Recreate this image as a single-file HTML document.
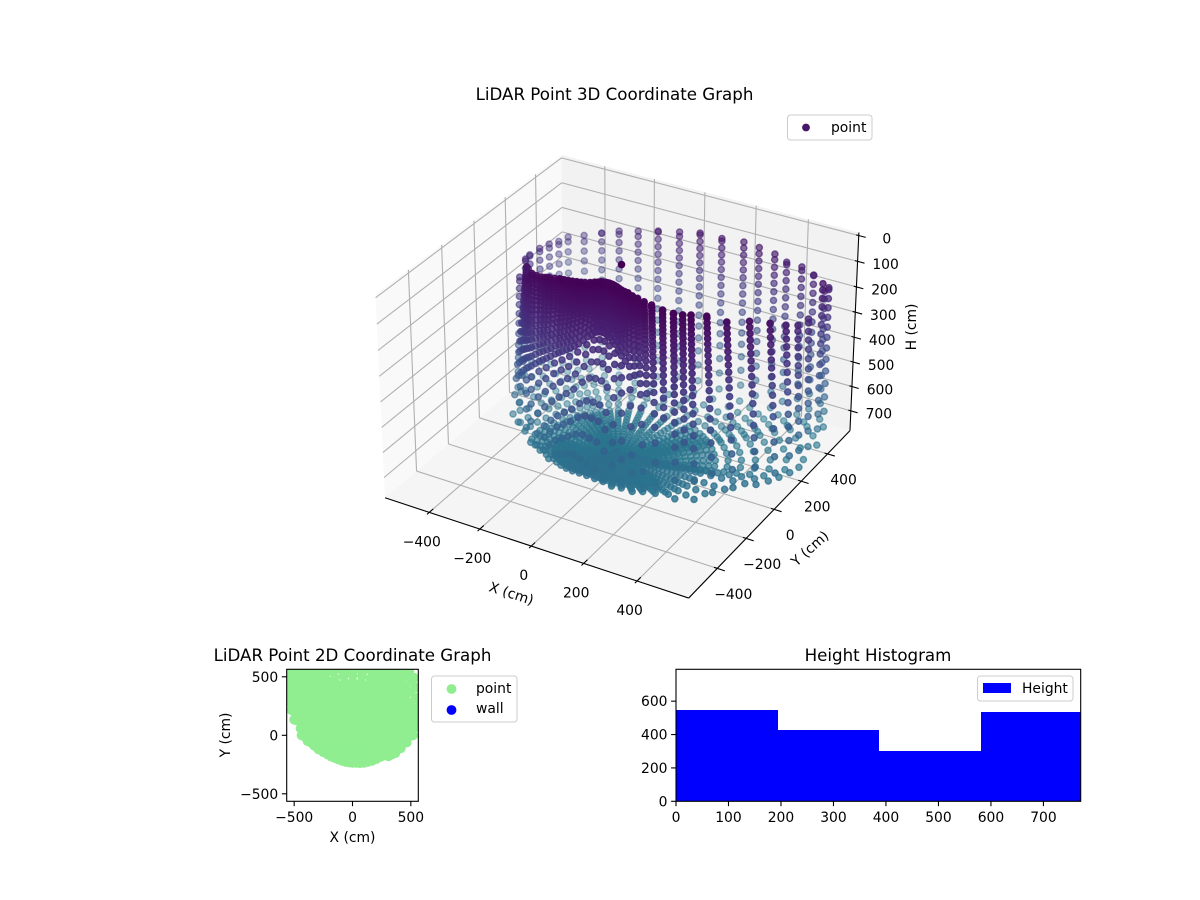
<!DOCTYPE html>
<html>
<head>
<meta charset="utf-8">
<title>LiDAR Point Graphs</title>
<style>
html,body{margin:0;padding:0;background:#fff;}
svg{display:block;}
text{font-family:"DejaVu Sans","Liberation Sans",sans-serif;fill:#000;font-size:13.89px;}
.ttl{font-size:16.67px;}
</style>
</head>
<body>
<svg id="fig" xmlns="http://www.w3.org/2000/svg" width="1200" height="900" viewBox="0 0 1200 900">
  <rect width="1200" height="900" fill="#fff"/>
  <defs><clipPath id="clip2d"><rect x="286.7" y="669.3" width="131.6" height="132"/></clipPath></defs>
  <g id="g3d"></g>
  <text class="ttl" x="614.5" y="100" text-anchor="middle">LiDAR Point 3D Coordinate Graph</text>
  <text text-anchor="middle" transform="translate(510,598) rotate(18)">X (cm)</text>
  <text text-anchor="middle" transform="translate(813,552) rotate(-42)">Y (cm)</text>
  <text text-anchor="middle" transform="translate(916,327) rotate(-90)">H (cm)</text>
  <g>
    <rect x="787.5" y="115" width="84.5" height="25" rx="3" fill="#fff" fill-opacity=".8" stroke="#ccc" stroke-width="1"/>
    <circle cx="806" cy="127.5" r="3.9" fill="#47176a"/>
    <text x="831" y="132">point</text>
  </g>

  <g id="g2d"></g>
  <text class="ttl" x="352.5" y="661" text-anchor="middle">LiDAR Point 2D Coordinate Graph</text>
  <text x="352.5" y="842" text-anchor="middle">X (cm)</text>
  <text text-anchor="middle" transform="translate(230,735) rotate(-90)">Y (cm)</text>
  <g>
    <rect x="431.5" y="676" width="85.5" height="46" rx="3" fill="#fff" fill-opacity=".8" stroke="#ccc" stroke-width="1"/>
    <circle cx="451.5" cy="689" r="4.9" fill="#90ee90"/>
    <text x="476" y="693">point</text>
    <circle cx="451.5" cy="710" r="4.9" fill="#0000ff"/>
    <text x="476" y="713">wall</text>
  </g>

  <g id="ghist"></g>
  <text class="ttl" x="878" y="661" text-anchor="middle">Height Histogram</text>
  <g>
    <rect x="977.5" y="676" width="95.5" height="25" rx="3" fill="#fff" fill-opacity=".8" stroke="#ccc" stroke-width="1"/>
    <rect x="983" y="683" width="28" height="10" fill="#0000ff"/>
    <text x="1022" y="693">Height</text>
  </g>
</svg>
<script>
// ---------- Scan data ----------
const spokeAzimuth = [180,-176.25,-172.5,-168.75,-165,-161.25,-157.5,-153.75,-150,-146.25,-142.5,-138.75,-135,-131.25,-127.5,-123.75,-120,-116.25,-112.5,-108.75,-105,-101.25,-97.5,-93.75,-90,-86.25,-82.5,-78.75,-75,-71.25,-67.5,-63.75,-60,-56.25,-52.5,-48.75,-45,-41.25,-37.5,-33.75,-30,-26.25,-22.5,-15,-7.5,0,7.5,15,22.5,30,37,43,48.3,51,54,58,61.8,67,72.6,81,90,98.5,107,114.4,120.8,126,130.7,134.5,138.1,142.2,146.8,152,157.5,165,172.5];
const spokeTopRange = [370,358,345,338,330,315,300,282,265,252,240,225,210,200,190,180,170,160,150,137,125,117,110,107,105,105,105,107,110,115,120,130,140,150,160,180,200,228,255,300,335,355,368,390,430,480,525,560,590,625,680,720,730,702,674,640,618,592,572,551,545,551,570,598,635,675,719,764,719,677,639,606,547,497,400];
const spokeTopHeight = [110,115,120,110,100,86,56,52,48,40,32,28,24,22,20,19,18,18,18,18,18,18,17,17,17,17,17,17,17,17,18,18,19,19,19,20,20,20,21,21,21,24,26,40,70,80,110,150,190,210,120,180,232,181,161,157,139,130,125,133,135,153,172,194,215,243,271,296,283,263,250,245,218,244,150];
const spokeWallRange = [440,415,390,365,340,328,315,302,290,280,270,264,258,253,248,245,243,241,240,240,240,240,241,242,243,244,245,247,250,254,258,263,268,273,278,284,290,297,305,325,360,380,400,430,470,520,560,590,610,640,680,720,730,702,674,640,618,592,572,551,545,551,570,598,635,675,719,764,719,677,639,606,570,520,450];
const spokeFloorHeight = [745,742,740,739,738,736,735,733,732,730,728,726,725,723,722,720,718,716,714,712,710,708,706,705,705,706,708,710,712,714,716,718,720,722,724,726,727,729,730,730,730,729,728,725,718,712,725,750,765,772,772,772,772,772,772,772,772,772,772,772,772,772,772,772,772,772,772,772,772,772,772,770,765,760,755];
const rayDepression = [90,88.7,87.4,86.1,84.8,83.5,82.2,80.9,79.6,78.3,77,75.7,74.4,73.1,71.8,70.5,69.2,67.9,66.6,64,61.4,58.8,56.2,53.6,51,48.4,45.8,43.2,40.6,38,35.4,32.8,30.2,27.6,25,22.4,19.8,17.2,14.6,12,9.4,6.8,4.2,1.6];
const sparseWallRays = [55, 72];
const floorCenterHeight = 745;
const nadirOffset = [15, -55];
const sensorPoint = [0, 0, 0];

const xTicks3d = [-400,-200,0,200,400];
const yTicks3d = [-400,-200,0,200,400];
const hTicks3d = [0,100,200,300,400,500,600,700];
const xLim3d = [-578,590];
const yLim3d = [-592,575];
const hLim3d = [782,-12];

const ticks2d = [-500,0,500];
const lim2d = [-564,564];

const histEdges = [0,194.4,387,581,771];
const histCounts = [547,427,301,535];
const histXTicks = [0,100,200,300,400,500,600,700];
const histYTicks = [0,200,400,600];
const histXLim = [0,771];
const histYLim = [0,791];

// ---------- Helpers ----------
const NS = 'http://www.w3.org/2000/svg';
function svgEl(tag, attrs, parent){
  const e = document.createElementNS(NS, tag);
  for (const k in attrs) e.setAttribute(k, attrs[k]);
  parent.appendChild(e);
  return e;
}
function minusText(v){ return String(v).replace('-', '\u2212'); }
const rad = Math.PI/180;

// ---------- Scan geometry: each ray meets the wall profile or floor of its spoke ----------
function scanPoints(){
  const pts = [];
  spokeAzimuth.forEach(function(az, i){
    const rt = spokeTopRange[i], ht = spokeTopHeight[i], rw = spokeWallRange[i], hf = spokeFloorHeight[i];
    const k = (rw - rt) / (hf - ht);
    const g = (hf - floorCenterHeight) / rw;
    const topDep = Math.atan2(ht, rt) / rad;
    const isSparse = az < -22.5 && (az / 7.5) % 1 !== 0;
    rayDepression.filter(function(d){
      if (isSparse && d > sparseWallRays[0] && d < sparseWallRays[1]) return false;
      return d >= topDep;
    }).concat([topDep]).forEach(function(dep){
      const t = Math.tan(dep * rad);
      const rFloor = floorCenterHeight / (t - g);
      let r = rFloor, onFloor = true;
      const denom = 1 - k * t;
      if (denom > 0) {
        const rWall = (rt - k * ht) / denom;
        if (rWall < r) { r = rWall; onFloor = false; }
      }
      if (r < 0) return;
      const shift = onFloor ? Math.max(0, 1 - r / rw) : 0;
      pts.push({
        x: r * Math.cos(az * rad) + nadirOffset[0] * shift,
        y: r * Math.sin(az * rad) + nadirOffset[1] * shift,
        h: Math.min(r * t, hf)
      });
    });
  });
  return pts;
}
const points = scanPoints();

// ---------- 3D projection (elev 30, azim -60) ----------
const box = [1.19, 1.19, 0.78];
const camU = [0.866025, 0.5, 0], camV = [-0.25, 0.433013, 0.866025], camW = [0.433013, -0.75, 0.5];
const camDist = 10, scaleX = 2915, scaleY = 2970, originX = 621.8, originY = 365.2;
function project(x, y, h){
  const d = [
    (x - xLim3d[0]) / (xLim3d[1] - xLim3d[0]) * box[0] - box[0]/2,
    (y - yLim3d[0]) / (yLim3d[1] - yLim3d[0]) * box[1] - box[1]/2,
    (h - hLim3d[0]) / (hLim3d[1] - hLim3d[0]) * box[2] - box[2]/2
  ];
  const xv = d[0]*camU[0] + d[1]*camU[1];
  const yv = d[0]*camV[0] + d[1]*camV[1] + d[2]*camV[2];
  const zv = d[0]*camW[0] + d[1]*camW[1] + d[2]*camW[2];
  const f = camDist - zv;
  return {px: originX + scaleX * xv / f, py: originY - scaleY * yv / f, depth: -zv};
}
function viridisLow(t){
  const stops = [[68,1,84],[72,36,117],[65,68,135],[53,95,141],[42,120,142]];
  const s = Math.max(0, Math.min(0.3999, t)) / 0.1;
  const i = Math.floor(s), f = s - i;
  const a = stops[i], b = stops[i+1];
  return 'rgb(' + [0,1,2].map(function(c){ return Math.round(a[c] + (b[c]-a[c]) * f); }).join(',') + ')';
}
const maxColorHeight = 772;

// ---------- 3D chart ----------
const g3d = document.getElementById('g3d');
const X0 = xLim3d[0], X1 = xLim3d[1], Y0 = yLim3d[0], Y1 = yLim3d[1], HB = hLim3d[0], HT = hLim3d[1];
function poly3d(corners, fill){
  return svgEl('polygon', {points: corners.map(function(c){ const p = project(c[0],c[1],c[2]); return p.px + ',' + p.py; }).join(' '), fill: fill}, g3d);
}
function line3d(a, b, stroke, width){
  const p = project(a[0],a[1],a[2]), q = project(b[0],b[1],b[2]);
  return svgEl('line', {x1:p.px, y1:p.py, x2:q.px, y2:q.py, stroke:stroke, 'stroke-width':width}, g3d);
}
const paneX = poly3d([[X0,Y0,HB],[X0,Y1,HB],[X0,Y1,HT],[X0,Y0,HT]], '#f9f9f9');


const paneY = poly3d([[X0,Y1,HB],[X1,Y1,HB],[X1,Y1,HT],[X0,Y1,HT]], '#f2f2f2');


const paneFloor = poly3d([[X0,Y0,HB],[X1,Y0,HB],[X1,Y1,HB],[X0,Y1,HB]], '#f5f5f5');



const GRID = '#b0b0b0', GW = 1.1;
xTicks3d.forEach(function(v){
  const a = line3d([v,Y0,HB],[v,Y1,HB],GRID,GW);
  
  
  const b = line3d([v,Y1,HB],[v,Y1,HT],GRID,GW);
  
  
});
yTicks3d.forEach(function(v){
  const a = line3d([X0,v,HB],[X1,v,HB],GRID,GW);
  
  
  const b = line3d([X0,v,HB],[X0,v,HT],GRID,GW);
  
  
});
hTicks3d.forEach(function(v){
  const a = line3d([X0,Y0,v],[X0,Y1,v],GRID,GW);
  
  
  const b = line3d([X0,Y1,v],[X1,Y1,v],GRID,GW);
  
  
});
const axX = line3d([X0,Y0,HB],[X1,Y0,HB],'#000',1.1);


const axY = line3d([X1,Y0,HB],[X1,Y1,HB],'#000',1.1);


const axH = line3d([X1,Y1,HB],[X1,Y1,HT],'#000',1.1);



xTicks3d.forEach(function(v){
  const t = line3d([v,Y0-14,HB],[v,Y0+24,HB],'#000',1.1);
  
  
  const p = project(v,Y0,HB);
  const l = svgEl('text', {x:p.px-7.5, y:p.py+34, 'text-anchor':'middle'}, g3d);
  l.textContent = minusText(v);
  
  
});
yTicks3d.forEach(function(v){
  const t = line3d([X1-12,v,HB],[X1+28,v,HB],'#000',1.1);
  
  
  const p = project(X1,v,HB);
  const l = svgEl('text', {x:p.px+16, y:p.py+30.5, 'text-anchor':'middle'}, g3d);
  l.textContent = minusText(v);
  
  
});
hTicks3d.forEach(function(v){
  const t = line3d([X1-10,Y1,v],[X1+26,Y1,v],'#000',1.1);
  
  
  const p = project(X1,Y1,v);
  const l = svgEl('text', {x:p.px+28, y:p.py+7.8, 'text-anchor':'middle'}, g3d);
  l.textContent = minusText(v);
  
  
});

// depth-shaded scatter, far points first
const projected = points.map(function(pt){
  const p = project(pt.x, pt.y, pt.h);
  return {px:p.px, py:p.py, depth:p.depth, h:pt.h};
});
let depthMin = Infinity, depthMax = -Infinity;
projected.forEach(function(p){ if (p.depth < depthMin) depthMin = p.depth; if (p.depth > depthMax) depthMax = p.depth; });
projected.sort(function(a,b){ return b.depth - a.depth; });
const scatter3d = svgEl('g', {}, g3d);


projected.forEach(function(p){
  const alpha = 1 - 0.7 * (p.depth - depthMin) / (depthMax - depthMin);
  const col = viridisLow(0.4 * p.h / maxColorHeight);
  const c = svgEl('circle', {cx:p.px.toFixed(1), cy:p.py.toFixed(1), r:3.1, fill:col, stroke:col, 'stroke-width':1.4, 'fill-opacity':alpha.toFixed(3), 'stroke-opacity':alpha.toFixed(3)}, scatter3d);
  
  
});
const sp = project(sensorPoint[0], sensorPoint[1], sensorPoint[2]);
const sensorDot = svgEl('circle', {cx:sp.px, cy:sp.py, r:3.8, fill:viridisLow(0)}, g3d);



// ---------- 2D chart ----------
const g2d = document.getElementById('g2d');
const ax2 = {l:286.7, r:418.3, t:669.3, b:801.3};
function x2d(v){ return ax2.l + (v - lim2d[0]) / (lim2d[1] - lim2d[0]) * (ax2.r - ax2.l); }
function y2d(v){ return ax2.b - (v - lim2d[0]) / (lim2d[1] - lim2d[0]) * (ax2.b - ax2.t); }
const scatter2d = svgEl('g', {'clip-path':'url(#clip2d)'}, g2d);


points.forEach(function(pt){
  const c = svgEl('circle', {cx:x2d(pt.x).toFixed(1), cy:y2d(pt.y).toFixed(1), r:4.9, fill:'#90ee90'}, scatter2d);
  
  
});
const frame2 = svgEl('rect', {x:ax2.l, y:ax2.t, width:ax2.r-ax2.l, height:ax2.b-ax2.t, fill:'none', stroke:'#000', 'stroke-width':1.1}, g2d);


ticks2d.forEach(function(v){
  const tx = svgEl('line', {x1:x2d(v), x2:x2d(v), y1:ax2.b, y2:ax2.b+4.9, stroke:'#000', 'stroke-width':1.1}, g2d);
  
  
  const lx = svgEl('text', {x:x2d(v), y:822, 'text-anchor':'middle'}, g2d);
  lx.textContent = minusText(v);
  
  
  const ty = svgEl('line', {x1:ax2.l-4.9, x2:ax2.l, y1:y2d(v), y2:y2d(v), stroke:'#000', 'stroke-width':1.1}, g2d);
  
  
  const ly = svgEl('text', {x:ax2.l-8.5, y:y2d(v)+5, 'text-anchor':'end'}, g2d);
  ly.textContent = minusText(v);
  
  
});

// ---------- Histogram ----------
const gh = document.getElementById('ghist');
const axh = {l:676, r:1080.7, t:669.3, b:801.3};
function xh(v){ return axh.l + (v - histXLim[0]) / (histXLim[1] - histXLim[0]) * (axh.r - axh.l); }
function yh(v){ return axh.b - (v - histYLim[0]) / (histYLim[1] - histYLim[0]) * (axh.b - axh.t); }
histCounts.forEach(function(c, i){
  const b = svgEl('rect', {x:xh(histEdges[i]), y:yh(c), width:xh(histEdges[i+1])-xh(histEdges[i]), height:axh.b-yh(c), fill:'#0000ff', 'shape-rendering':'crispEdges'}, gh);
  
  
});
const frameH = svgEl('rect', {x:axh.l, y:axh.t, width:axh.r-axh.l, height:axh.b-axh.t, fill:'none', stroke:'#000', 'stroke-width':1.1}, gh);


histXTicks.forEach(function(v){
  const t = svgEl('line', {x1:xh(v), x2:xh(v), y1:axh.b, y2:axh.b+4.9, stroke:'#000', 'stroke-width':1.1}, gh);
  
  
  const l = svgEl('text', {x:xh(v), y:822, 'text-anchor':'middle'}, gh);
  l.textContent = String(v);
  
  
});
histYTicks.forEach(function(v){
  const t = svgEl('line', {x1:axh.l-4.9, x2:axh.l, y1:yh(v), y2:yh(v), stroke:'#000', 'stroke-width':1.1}, gh);
  
  
  const l = svgEl('text', {x:axh.l-8.5, y:yh(v)+5, 'text-anchor':'end'}, gh);
  l.textContent = String(v);
  
  
});
</script>
</body>
</html>
